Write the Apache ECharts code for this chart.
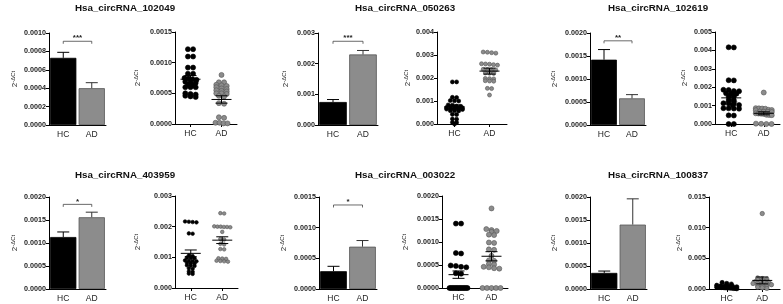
<!DOCTYPE html>
<html>
<head>
<meta charset="utf-8">
<script src="https://cdn.jsdelivr.net/npm/echarts@6/dist/echarts.min.js"></script>
<style>
  html, body { margin: 0; padding: 0; background: #fff; }
  #chart { width: 783px; height: 304px; }
</style>
</head>
<body>
<div id="chart"></div>
<script>
// ---- data ----
const titles = ['Hsa_circRNA_102049', 'Hsa_circRNA_050263', 'Hsa_circRNA_102619',
  'Hsa_circRNA_403959', 'Hsa_circRNA_003022', 'Hsa_circRNA_100837']
const groups = ['HC', 'AD']

// bar panels: mean and SEM per group
const barMeans = [[0.00073, 0.00040], [0.00075, 0.00230], [0.00142, 0.00058],
  [0.00113, 0.00156], [0.00029, 0.00069], [0.00035, 0.00140]]
const barErrs = [[0.00006, 0.00006], [0.00008, 0.00013], [0.00022, 0.00008],
  [0.00011, 0.00011], [0.00008, 0.00010], [0.00004, 0.00056]]
const sigStars = ['***', '***', '**', '*', '*', '']
const sigHeights = [0.00091, 0.00273, 0.00183, 0.00184, 0.00137, null]

// axis ranges
const barMax = [0.001, 0.003, 0.002, 0.002, 0.0015, 0.002]
const barStep = [0.0002, 0.001, 0.0005, 0.0005, 0.0005, 0.0005]
const barDigits = [4, 3, 4, 4, 4, 4]
const dotMax = [0.0015, 0.004, 0.005, 0.003, 0.002, 0.015]
const dotStep = [0.0005, 0.001, 0.001, 0.001, 0.0005, 0.005]
const dotDigits = [4, 3, 3, 3, 4, 3]

// individual samples (dot plots)
const hcValues = [
  [0.00122, 0.00122, 0.00110, 0.00110, 0.00092, 0.00092, 0.00082, 0.00082, 0.00075, 0.00074,
    0.00073, 0.00072, 0.00069, 0.00068, 0.00067, 0.00064, 0.00063, 0.00060, 0.00060, 0.00060,
    0.00050, 0.00049, 0.00048, 0.00046, 0.00045, 0.00044],
  [0.00183, 0.00183, 0.00116, 0.00115, 0.00102, 0.00100, 0.00101, 0.00083, 0.00082, 0.00078,
    0.00077, 0.00072, 0.00071, 0.00070, 0.00071, 0.00070, 0.00065, 0.00064, 0.00063, 0.00064,
    0.00063, 0.00058, 0.00058, 0.00057, 0.00042, 0.00041, 0.00022, 0.00021, 0.00007, 0.00006, 0],
  [0.00417, 0.00416, 0.00238, 0.00237, 0.00186, 0.00185, 0.00179, 0.00178, 0.00167, 0.00166,
    0.00165, 0.00150, 0.00149, 0.00130, 0.00129, 0.00113, 0.00112, 0.00111, 0.00103, 0.00102,
    0.00086, 0.00085, 0.00084, 0.00083, 0.00047, 0.00046, 0, 0],
  [0.00217, 0.00216, 0.00215, 0.00214, 0.00178, 0.00177, 0.00106, 0.00104, 0.00099, 0.00098,
    0.00097, 0.00090, 0.00089, 0.00088, 0.00087, 0.00082, 0.00081, 0.00080, 0.00074, 0.00073,
    0.00072, 0.00064, 0.00063, 0.00054, 0.00053, 0.00047, 0.00046],
  [0.00140, 0.00140, 0.00076, 0.00075, 0.00049, 0.00048, 0.00046, 0.00045, 0.00032, 0.00031,
    0, 0, 0, 0, 0, 0, 0, 0, 0, 0, 0, 0, 0, 0],
  [0.00105, 0.00090, 0.00080, 0.00060, 0.00050, 0.00045, 0.00040, 0.00040, 0.00035, 0.00030,
    0.00030, 0.00030, 0.00025, 0.00025, 0.00020, 0.00020, 0.00020, 0.00015, 0.00015, 0.00010,
    0.00010, 0.00005]
]
const adValues = [
  [0.00080, 0.00068, 0.00068, 0.00064, 0.00063, 0.00062, 0.00060, 0.00058, 0.00057, 0.00055,
    0.00054, 0.00053, 0.00050, 0.00050, 0.00049, 0.00046, 0.00045, 0.00034, 0.00033, 0.00011,
    0.00010, 0.00002, 0.00002, 0.00001, 0.00001],
  [0.00313, 0.00312, 0.00310, 0.00308, 0.00262, 0.00261, 0.00260, 0.00258, 0.00256, 0.00238,
    0.00237, 0.00236, 0.00235, 0.00230, 0.00228, 0.00222, 0.00221, 0.00220, 0.00198, 0.00197,
    0.00196, 0.00188, 0.00187, 0.00186, 0.00155, 0.00154, 0.00126],
  [0.00171, 0.00086, 0.00085, 0.00084, 0.00083, 0.00077, 0.00076, 0.00075, 0.00068, 0.00067,
    0.00066, 0.00065, 0.00058, 0.00057, 0.00056, 0.00055, 0.00050, 0.00049, 0.00048, 0.00002,
    0.00001, 0, 0],
  [0.00244, 0.00243, 0.00200, 0.00199, 0.00199, 0.00198, 0.00200, 0.00201, 0.00183, 0.00160,
    0.00158, 0.00144, 0.00142, 0.00127, 0.00126, 0.00097, 0.00096, 0.00095, 0.00089, 0.00088,
    0.00087, 0.00086],
  [0.00173, 0.00128, 0.00126, 0.00124, 0.00122, 0.00116, 0.00115, 0.00099, 0.00098, 0.00084,
    0.00083, 0.00070, 0.00060, 0.00059, 0.00052, 0.00051, 0.00046, 0.00045, 0.00043, 0.00042,
    0, 0, 0, 0, 0],
  [0.01230, 0.00180, 0.00170, 0.00160, 0.00150, 0.00140, 0.00130, 0.00120, 0.00110, 0.00100,
    0.00100, 0.00090, 0.00090, 0.00080, 0.00080, 0.00070, 0.00060, 0.00050, 0.00040, 0.00030,
    0.00020, 0.00010]
]

// ---- layout ----
const FONT = '"Liberation Sans", Arial, sans-serif'
const PLOT_H = 92
const layout = [
  { bar: [49, 33, 57], dot: [175, 32, 62], barGap: 30, dotGap: 33, title: [121, 7], r: 2.5, spread: 6 },
  { bar: [318, 33, 60], dot: [437, 32, 70], barGap: 28, dotGap: 20, title: [401, 7], r: 2, spread: 8 },
  { bar: [590, 33, 56], dot: [715, 32, 65], barGap: 31, dotGap: 26, title: [654, 7], r: 2.5, spread: 8 },
  { bar: [49, 197, 57], dot: [175, 196, 63], barGap: 30, dotGap: 33, title: [121, 174], r: 1.8, spread: 8 },
  { bar: [319, 197, 58], dot: [442, 196, 66], barGap: 31, dotGap: 32, title: [401, 174], r: 2.5, spread: 9 },
  { bar: [590, 197, 57], dot: [709, 197, 71], barGap: 31, dotGap: 20, title: [654, 174], r: 2.2, spread: 10 }
]
const colors = { HC: '#000000', AD: '#8c8c8c', ADline: '#555555' }

// spread points with similar values sideways, in rows (GraphPad style)
function swarm (vals, cat, pxPerUnit, r, maxHalf) {
  const sorted = vals.slice().sort((a, b) => b - a)
  const rows = []
  sorted.forEach(v => {
    const last = rows[rows.length - 1]
    if (last && (last[0] - v) * pxPerUnit < r * 0.8) last.push(v)
    else rows.push([v])
  })
  const out = []
  rows.forEach((row, k) => {
    const n = row.length
    const step = n > 1 ? Math.min(2 * r + 0.2, (2 * maxHalf) / (n - 1)) : 0
    // lone points in consecutive rows alternate a little so they do not stack in a column
    const shift = n === 1 && k % 2 ? r * 0.6 : 0
    row.forEach((v, i) => out.push([cat, v, (i - (n - 1) / 2) * step + shift]))
  })
  return out
}

function catAxis (gridIndex, ticks) {
  return {
    type: 'category',
    gridIndex,
    data: groups,
    axisLine: { lineStyle: { color: '#000', width: 1 } },
    axisTick: { show: ticks, alignWithLabel: true, length: 3, lineStyle: { color: '#000' } },
    axisLabel: { fontSize: 8.5, color: '#222', margin: 5, fontFamily: FONT }
  }
}

function valAxis (gridIndex, max, step, digits, gap) {
  return {
    type: 'value',
    gridIndex,
    min: 0,
    max,
    interval: step,
    axisLine: { show: true, lineStyle: { color: '#000', width: 1 } },
    axisTick: { show: true, length: 3, lineStyle: { color: '#000' } },
    splitLine: { show: false },
    axisLabel: {
      formatter: v => v.toFixed(digits),
      fontSize: 7.2,
      fontWeight: 'bold',
      color: '#222',
      margin: 3,
      fontFamily: FONT
    },
    name: '2{s|-ΔCt}',
    nameLocation: 'middle',
    nameRotate: 90,
    nameGap: gap,
    nameTextStyle: {
      fontSize: 8,
      color: '#222',
      fontFamily: FONT,
      rich: { s: { fontSize: 6, verticalAlign: 'top', fontFamily: FONT, color: '#222', padding: [0, 0, 3, 0] } }
    }
  }
}

const grids = []
const xAxes = []
const yAxes = []
const series = []
const titleList = []

layout.forEach((L, p) => {
  const bi = 2 * p
  const di = 2 * p + 1

  titleList.push({
    text: titles[p],
    left: L.title[0] + 4,
    top: L.title[1] - 4,
    padding: 0,
    textAlign: 'center',
    textStyle: { fontSize: 9.8, fontWeight: 'bold', color: '#111', fontFamily: FONT }
  })

  grids.push({ left: L.bar[0], top: L.bar[1], width: L.bar[2], height: PLOT_H })
  grids.push({ left: L.dot[0], top: L.dot[1], width: L.dot[2], height: PLOT_H })
  xAxes.push(catAxis(bi, false), catAxis(di, true))
  yAxes.push(valAxis(bi, barMax[p], barStep[p], barDigits[p], L.barGap))
  yAxes.push(valAxis(di, dotMax[p], dotStep[p], dotDigits[p], L.dotGap))

  // bars
  series.push({
    type: 'bar',
    xAxisIndex: bi,
    yAxisIndex: bi,
    barCategoryGap: '8%',
    silent: true,
    data: barMeans[p].map((v, i) => ({
      value: v,
      itemStyle: {
        color: i ? colors.AD : colors.HC,
        borderColor: i ? colors.ADline : colors.HC,
        borderWidth: 0.8
      }
    }))
  })

  // SEM whiskers on bars (upper only)
  series.push({
    type: 'custom',
    xAxisIndex: bi,
    yAxisIndex: bi,
    z: 3,
    silent: true,
    encode: { x: 0, y: [1, 2] },
    data: barMeans[p].map((m, i) => [i, m, m + barErrs[p][i]]),
    renderItem: (params, api) => {
      const a = api.coord([api.value(0), api.value(1)])
      const b = api.coord([api.value(0), api.value(2)])
      const stroke = api.value(0) ? '#333' : '#000'
      return {
        type: 'group',
        children: [
          { type: 'line', shape: { x1: a[0], y1: a[1], x2: b[0], y2: b[1] }, style: { stroke, lineWidth: 1 } },
          { type: 'line', shape: { x1: b[0] - 6, y1: b[1], x2: b[0] + 6, y2: b[1] }, style: { stroke, lineWidth: 1 } }
        ]
      }
    }
  })

  // significance bracket
  if (sigStars[p]) {
    series.push({
      type: 'custom',
      xAxisIndex: bi,
      yAxisIndex: bi,
      z: 3,
      silent: true,
      encode: { x: 0, y: 1 },
      data: [[0, sigHeights[p]]],
      renderItem: (params, api) => {
        const a = api.coord([0, api.value(1)])
        const b = api.coord([1, api.value(1)])
        return {
          type: 'group',
          children: [
            {
              type: 'polyline',
              shape: { points: [[a[0], a[1] + 2.5], [a[0], a[1]], [b[0], b[1]], [b[0], b[1] + 2.5]] },
              style: { stroke: '#444', lineWidth: 0.8, fill: null }
            },
            {
              type: 'text',
              x: (a[0] + b[0]) / 2,
              y: a[1] + 1,
              style: {
                text: sigStars[p],
                align: 'center',
                verticalAlign: 'bottom',
                fill: '#222',
                font: 'bold 8px ' + FONT
              }
            }
          ]
        }
      }
    })
  }

  // dot plot
  const pxPerUnit = PLOT_H / dotMax[p]
  const pts = swarm(hcValues[p], 0, pxPerUnit, L.r, L.spread)
    .concat(swarm(adValues[p], 1, pxPerUnit, L.r, L.spread))
  series.push({
    type: 'custom',
    xAxisIndex: di,
    yAxisIndex: di,
    silent: true,
    encode: { x: 0, y: 1 },
    data: pts,
    renderItem: (params, api) => {
      const c = api.coord([api.value(0), api.value(1)])
      const ad = api.value(0) === 1
      return {
        type: 'circle',
        shape: { cx: c[0] + api.value(2), cy: c[1], r: L.r },
        style: {
          fill: ad ? colors.AD : colors.HC,
          stroke: ad ? colors.ADline : colors.HC,
          lineWidth: 0.6
        }
      }
    }
  })

  // mean +/- SEM on the dot plot
  series.push({
    type: 'custom',
    xAxisIndex: di,
    yAxisIndex: di,
    z: 4,
    silent: true,
    encode: { x: 0, y: 1 },
    data: barMeans[p].map((m, i) => [i, m, barErrs[p][i]]),
    renderItem: (params, api) => {
      const m = api.coord([api.value(0), api.value(1)])
      const hi = api.coord([api.value(0), api.value(1) + api.value(2)])
      const lo = api.coord([api.value(0), api.value(1) - api.value(2)])
      const st = { stroke: '#000', lineWidth: 1 }
      return {
        type: 'group',
        children: [
          { type: 'line', shape: { x1: m[0] - 10, y1: m[1], x2: m[0] + 10, y2: m[1] }, style: st },
          { type: 'line', shape: { x1: m[0], y1: hi[1], x2: m[0], y2: lo[1] }, style: st },
          { type: 'line', shape: { x1: m[0] - 6, y1: hi[1], x2: m[0] + 6, y2: hi[1] }, style: st },
          { type: 'line', shape: { x1: m[0] - 6, y1: lo[1], x2: m[0] + 6, y2: lo[1] }, style: st }
        ]
      }
    }
  })
})

const chart = echarts.init(document.getElementById('chart'))
chart.setOption({
  animation: false,
  backgroundColor: '#fff',
  title: titleList,
  grid: grids,
  xAxis: xAxes,
  yAxis: yAxes,
  series
})
</script>
</body>
</html>
